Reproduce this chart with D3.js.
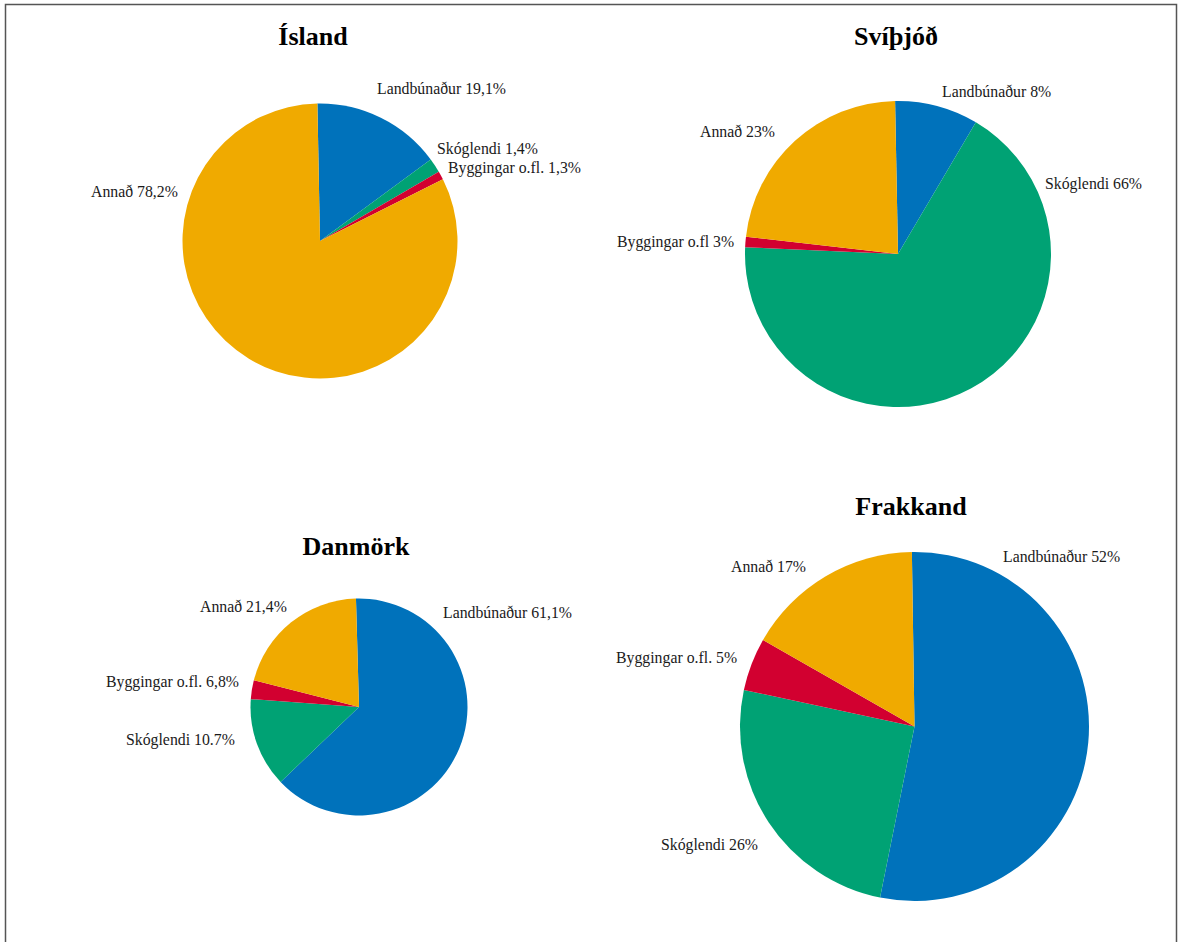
<!DOCTYPE html>
<html>
<head>
<meta charset="utf-8">
<script src="https://cdn.jsdelivr.net/npm/d3@7"></script>
<style>
  html, body { margin: 0; padding: 0; background: #ffffff; }
  svg { display: block; }
</style>
</head>
<body>
<div id="chart"></div>
<script>
// Land use categories (same order, clockwise from top, in every pie)
const categories = ['Landbúnaður', 'Skóglendi', 'Byggingar o.fl.', 'Annað'];
const colors = ['#0072bb', '#00a274', '#d20030', '#f0aa00'];

// Slice sizes as drawn in the picture (share of the circle, %)
const icelandValues = [15.2, 1.7, 1.0, 82.1];
const swedenValues = [8.8, 67.2, 1.1, 22.9];
const denmarkValues = [63.3, 13.3, 2.8, 20.6];
const franceValues = [53.4, 25.2, 4.9, 16.5];

// Label texts as printed next to the slices
const icelandLabels = ['Landbúnaður 19,1%', 'Skóglendi 1,4%', 'Byggingar o.fl. 1,3%', 'Annað 78,2%'];
const swedenLabels = ['Landbúnaður 8%', 'Skóglendi 66%', 'Byggingar o.fl 3%', 'Annað 23%'];
const denmarkLabels = ['Landbúnaður 61,1%', 'Skóglendi 10.7%', 'Byggingar o.fl. 6,8%', 'Annað 21,4%'];
const franceLabels = ['Landbúnaður 52%', 'Skóglendi 26%', 'Byggingar o.fl. 5%', 'Annað 17%'];

const titles = ['Ísland', 'Svíþjóð', 'Danmörk', 'Frakkand'];

const width = 1180;
const height = 942;

// Layout per panel: pie centre, radius, title position, label anchors (left x, baseline y)
const panels = [
  {
    title: titles[0], values: icelandValues, labels: icelandLabels,
    cx: 320, cy: 241, r: 137.5, titleX: 313, titleY: 45, start: -0.019,
    labelPos: [[377, 94], [437, 154], [448, 173], [91, 197]]
  },
  {
    title: titles[1], values: swedenValues, labels: swedenLabels,
    cx: 898, cy: 254, r: 153, titleX: 896, titleY: 45, start: -0.019,
    labelPos: [[942, 97], [1045, 189], [617, 247], [700, 137]]
  },
  {
    title: titles[2], values: denmarkValues, labels: denmarkLabels,
    cx: 359, cy: 707, r: 108.5, titleX: 356, titleY: 555, start: -0.028,
    labelPos: [[443, 618], [126, 745], [106, 687], [200, 612]]
  },
  {
    title: titles[3], values: franceValues, labels: franceLabels,
    cx: 914.5, cy: 726.5, r: 174.5, titleX: 911, titleY: 515, start: -0.015,
    labelPos: [[1003, 562], [661, 850], [616, 663], [731, 572]]
  }
];

const svg = d3.select('#chart')
  .append('svg')
  .attr('width', width)
  .attr('height', height)
  .attr('viewBox', `0 0 ${width} ${height}`);

// Outer frame (open at the bottom, as in the source picture)
svg.append('path')
  .attr('d', `M5.5,${height} V4.5 H1176.5 V${height}`)
  .attr('fill', 'none')
  .attr('stroke', '#555555')
  .attr('stroke-width', 1.5);

const color = d3.scaleOrdinal().domain(categories).range(colors);

panels.forEach(p => {
  const g = svg.append('g').attr('class', 'panel');

  const pie = d3.pie()
    .sort(null)
    .value(d => d.value)
    .startAngle(p.start)
    .endAngle(p.start + 2 * Math.PI);

  const arc = d3.arc().innerRadius(0).outerRadius(p.r);

  const rows = categories.map((c, i) => ({ category: c, value: p.values[i], label: p.labels[i] }));

  g.append('g')
    .attr('transform', `translate(${p.cx},${p.cy})`)
    .selectAll('path')
    .data(pie(rows))
    .enter()
    .append('path')
    .attr('d', arc)
    .attr('fill', d => color(d.data.category));

  // Title
  g.append('text')
    .attr('x', p.titleX)
    .attr('y', p.titleY)
    .attr('text-anchor', 'middle')
    .attr('font-family', '"Liberation Serif", "Times New Roman", serif')
    .attr('font-size', '26px')
    .attr('font-weight', 'bold')
    .attr('fill', '#000000')
    .text(p.title);

  // Slice labels
  g.selectAll('.slice-label')
    .data(rows)
    .enter()
    .append('text')
    .attr('class', 'slice-label')
    .attr('x', (d, i) => p.labelPos[i][0])
    .attr('y', (d, i) => p.labelPos[i][1])
    .attr('font-family', '"Liberation Serif", "Times New Roman", serif')
    .attr('font-size', '15.8px')
    .attr('fill', '#1a1a1a')
    .text(d => d.label);
});
</script>
</body>
</html>
